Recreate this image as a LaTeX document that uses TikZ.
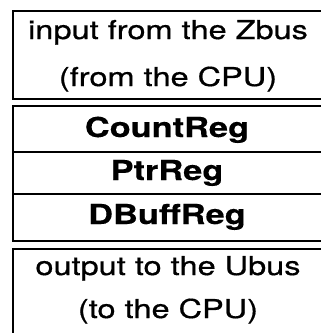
\documentclass[tikz,border=0pt]{standalone}
\usepackage{fontspec}
\setmainfont{TeX Gyre Heros}
\newfontfamily\regfont{TeX Gyre Heros}[FakeBold=0.6]
\newfontfamily\boldfont{TeX Gyre Heros Bold}[FakeBold=0.3]
\newcommand{\widen}[1]{\scalebox{1.25}[1]{#1}}
\begin{document}
\begin{tikzpicture}[x=1pt,y=1pt,
  box/.style={draw, line width=1.8pt, rectangle, inner sep=0pt, anchor=north west},
  sep/.style={line width=1.8pt},
  txt/.style={anchor=base, inner sep=0pt, font=\regfont\fontsize{26}{30}\selectfont},
  btxt/.style={anchor=base, inner sep=0pt, font=\boldfont\fontsize{27.5}{30}\selectfont}]
\useasboundingbox (0,0) rectangle (321,-333);
\clip (0,0) rectangle (321,-333);
\node[box, minimum width=313pt, minimum height=88pt] (inbox) at (12,-10) {};
\node[box, minimum width=313pt, minimum height=135pt] (regbox) at (12,-105) {};
\node[box, minimum width=313pt, minimum height=100pt] (outbox) at (12,-248) {};
\coordinate (s1l) at (12,-152);
\coordinate (s1r) at (325,-152);
\coordinate (s2l) at (12,-194);
\coordinate (s2r) at (325,-194);
\draw[sep] (s1l) -- (s1r);
\draw[sep] (s2l) -- (s2r);
\node[txt] (in1) at (168,-39) {\widen{input from the Zbus}};
\node[txt] (in2) at (168,-86) {\widen{(from the CPU)}};
\node[btxt] (count) at (167,-137) {\widen{CountReg}};
\node[btxt] (ptr) at (167,-180) {\widen{PtrReg}};
\node[btxt] (dbuff) at (167,-224) {\widen{DBuffReg}};
\node[txt] (out1) at (168,-275) {\widen{output to the Ubus}};
\node[txt] (out2) at (168,-318) {\widen{(to the CPU)}};
\end{tikzpicture}
\end{document}
